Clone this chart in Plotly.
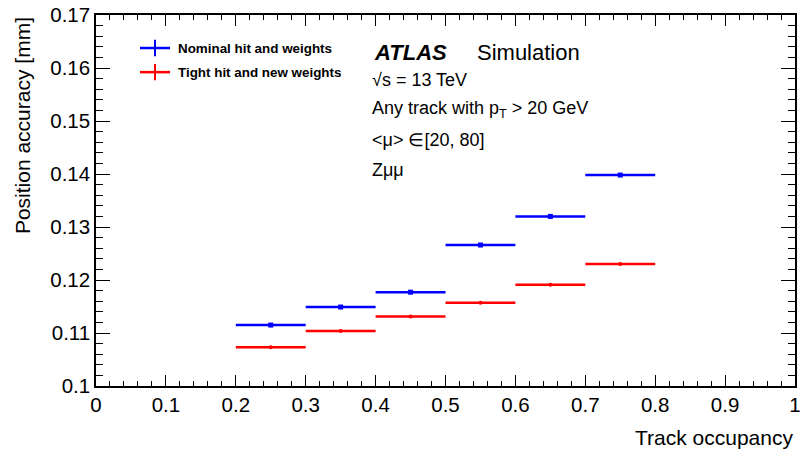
import plotly.graph_objects as go

bin_centers = [0.25, 0.35, 0.45, 0.55, 0.65, 0.75]
bin_halfwidth = [0.05, 0.05, 0.05, 0.05, 0.05, 0.05]
nominal = [0.1115, 0.1149, 0.1177, 0.1266, 0.1320, 0.1398]
nominal_err = [0.0003, 0.0002, 0.0002, 0.0002, 0.0002, 0.0002]
tight = [0.1073, 0.1104, 0.1131, 0.1157, 0.1191, 0.1230]
tight_err = [0.0003, 0.0002, 0.0002, 0.0002, 0.0002, 0.0002]
series_names = ["Nominal hit and weights", "Tight hit and new weights"]
colors = ["#0000ff", "#ff0000"]

FONT = "Liberation Sans, Arial, Helvetica, sans-serif"

fig = go.Figure()
for name, vals, errs, col, sym, sz in [
    (series_names[0], nominal, nominal_err, colors[0], "square", 5),
    (series_names[1], tight, tight_err, colors[1], "circle", 4),
]:
    fig.add_trace(go.Scatter(
        x=bin_centers, y=vals, mode="markers", name=name,
        marker=dict(color=col, symbol=sym, size=sz),
        error_x=dict(type="data", array=bin_halfwidth, color=col, thickness=2.5, width=0),
        error_y=dict(type="data", array=errs, color=col, thickness=2, width=0),
        showlegend=False,
    ))

# manual legend
leg_y = [0.911, 0.846]
shapes = []
annotations = []
for i, (name, col) in enumerate(zip(series_names, colors)):
    y = leg_y[i]
    shapes.append(dict(type="line", xref="paper", yref="paper",
                       x0=(140-96)/699, x1=(170-96)/699, y0=y, y1=y,
                       line=dict(color=col, width=2.5)))
    shapes.append(dict(type="line", xref="paper", yref="paper",
                       x0=(155-96)/699, x1=(155-96)/699, y0=y-0.022, y1=y+0.022,
                       line=dict(color=col, width=2)))
    annotations.append(dict(xref="paper", yref="paper", x=(176-96)/699, y=y,
                            xanchor="left", yanchor="middle", showarrow=False,
                            text="<b>%s</b>" % name,
                            font=dict(family=FONT, size=13.4, color="black")))

txt = [
    (0.395, 0.900, "<b><i>ATLAS</i></b>", 22),
    (0.542, 0.900, "Simulation", 22),
    (0.392, 0.825, "√s = 13 TeV", 18),
    (0.392, 0.744, "Any track with p<sub>T</sub> > 20 GeV", 18),
    (0.392, 0.663, "<μ> ∈[20, 80]", 18),
    (0.392, 0.582, "Zμμ", 18),
]
for x, y, t, s in txt:
    annotations.append(dict(xref="paper", yref="paper", x=x, y=y, xanchor="left",
                            yanchor="middle", showarrow=False, text=t,
                            font=dict(family=FONT, size=s, color="black")))

annotations.append(dict(xref="paper", yref="paper", x=1.0, y=-0.14, xanchor="right",
                        yanchor="middle", showarrow=False, text="Track occupancy",
                        font=dict(family=FONT, size=21, color="black")))
annotations.append(dict(xref="paper", yref="paper", x=-0.105, y=1.0, xanchor="center",
                        yanchor="top", showarrow=False, text="Position accuracy [mm]",
                        textangle=-90, font=dict(family=FONT, size=21, color="black")))

axis_common = dict(showgrid=False, zeroline=False, showline=True, linecolor="black",
                   linewidth=1.5, mirror="allticks", ticks="inside", tickcolor="black",
                   tickwidth=1.2, automargin=False, ticklabeloverflow="allow",
                   tickfont=dict(family=FONT, size=20.5, color="black"))

fig.update_layout(
    width=800, height=454,
    margin=dict(l=96, r=5, t=15, b=68),
    paper_bgcolor="white", plot_bgcolor="white",
    xaxis=dict(range=[0, 1], tickmode="linear", tick0=0, dtick=0.1, ticklen=11,
               minor=dict(ticks="inside", ticklen=5, dtick=0.02, tickcolor="black", tickwidth=1),
               tickformat="~g", **axis_common),
    yaxis=dict(range=[0.1, 0.17], tickmode="linear", tick0=0.1, dtick=0.01, ticklen=14,
               minor=dict(ticks="inside", ticklen=7, dtick=0.002, tickcolor="black", tickwidth=1),
               tickformat="~g", **axis_common),
    shapes=shapes, annotations=annotations, showlegend=False,
)

fig.write_html("out.html", config={"displayModeBar": False},
               post_script="document.body.style.margin='0';document.body.style.overflow='hidden';")
